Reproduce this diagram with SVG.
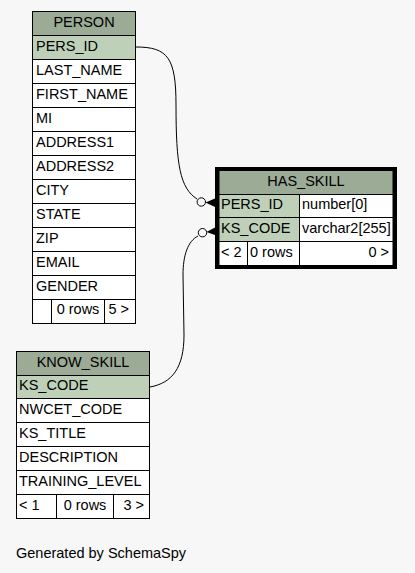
<svg xmlns="http://www.w3.org/2000/svg" width="415" height="573" viewBox="0 0 415 573">
<style>
text{font-family:"Liberation Sans",Arial,Helvetica,sans-serif;font-size:14.5px;fill:#000}
.h{fill:#9bab96;stroke:#000;stroke-width:1}
.pk{fill:#bed1b8;stroke:#000;stroke-width:1}
.c{fill:#fff;stroke:#000;stroke-width:1}
.m{text-anchor:middle}
.e{text-anchor:end}
.ln{fill:none;stroke:#000;stroke-width:1}
</style>
<rect x="0" y="0" width="415" height="573" fill="#f7f7f7"/>
<g id="connectors">
<path class="ln" d="M136,47 C168,47 176,58 176,105 C176,165 180,188 197,199"/>
<circle class="ln" cx="201.3" cy="202" r="4.2" fill="#fff"/>
<polygon points="205.5,202.5 215,198.5 215,207" fill="#000"/>
<path class="ln" d="M150,387 C172,383 184,368 184,335 L183,275 C183,255 188,241 198,236"/>
<circle class="ln" cx="202.5" cy="232.7" r="4.2" fill="#fff"/>
<polygon points="206.5,232 215,227.5 215,235" fill="#000"/>
</g>
<g id="PERSON">
<rect class="h" x="32.5" y="11.5" width="103" height="24"/>
<text class="m" x="84" y="27">PERSON</text>
<rect class="pk" x="32.5" y="35.5" width="103" height="24"/>
<text x="36" y="51">PERS_ID</text>
<rect class="c" x="32.5" y="59.5" width="103" height="24"/>
<text x="36" y="75">LAST_NAME</text>
<rect class="c" x="32.5" y="83.5" width="103" height="24"/>
<text x="36" y="99">FIRST_NAME</text>
<rect class="c" x="32.5" y="107.5" width="103" height="24"/>
<text x="36" y="123">MI</text>
<rect class="c" x="32.5" y="131.5" width="103" height="24"/>
<text x="36" y="147">ADDRESS1</text>
<rect class="c" x="32.5" y="155.5" width="103" height="24"/>
<text x="36" y="171">ADDRESS2</text>
<rect class="c" x="32.5" y="179.5" width="103" height="24"/>
<text x="36" y="195">CITY</text>
<rect class="c" x="32.5" y="203.5" width="103" height="24"/>
<text x="36" y="219">STATE</text>
<rect class="c" x="32.5" y="227.5" width="103" height="24"/>
<text x="36" y="243">ZIP</text>
<rect class="c" x="32.5" y="251.5" width="103" height="24"/>
<text x="36" y="267">EMAIL</text>
<rect class="c" x="32.5" y="275.5" width="103" height="24"/>
<text x="36" y="291">GENDER</text>
<rect class="c" x="32.5" y="299.5" width="19" height="24"/>
<rect class="c" x="51.5" y="299.5" width="53" height="24"/>
<rect class="c" x="104.5" y="299.5" width="31" height="24"/>
<text class="m" x="78" y="314">0 rows</text>
<text class="e" x="129" y="314">5 &gt;</text>
</g>
<g id="HAS_SKILL">
<rect class="h" x="219" y="170.5" width="174" height="24"/>
<text class="m" x="306" y="186">HAS_SKILL</text>
<rect class="pk" x="219" y="194.5" width="80.5" height="23"/>
<rect class="c" x="299.5" y="194.5" width="93.5" height="23"/>
<text x="221" y="209">PERS_ID</text>
<text x="302" y="209">number[0]</text>
<rect class="pk" x="219" y="217.5" width="80.5" height="24"/>
<rect class="c" x="299.5" y="217.5" width="93.5" height="24"/>
<text x="221" y="233">KS_CODE</text>
<text x="302" y="233">varchar2[255]</text>
<rect class="c" x="219" y="241.5" width="28.5" height="24"/>
<rect class="c" x="247.5" y="241.5" width="52" height="24"/>
<rect class="c" x="299.5" y="241.5" width="93.5" height="24"/>
<text x="221" y="257">&lt; 2</text>
<text x="250" y="257">0 rows</text>
<text class="e" x="389" y="257">0 &gt;</text>
<rect x="217" y="169" width="178" height="98" fill="none" stroke="#000" stroke-width="4"/>
</g>
<g id="KNOW_SKILL">
<rect class="h" x="16.5" y="351.5" width="133" height="24"/>
<text class="m" x="83" y="367">KNOW_SKILL</text>
<rect class="pk" x="16.5" y="375.5" width="133" height="23"/>
<text x="19" y="390">KS_CODE</text>
<rect class="c" x="16.5" y="398.5" width="133" height="24"/>
<text x="19" y="414">NWCET_CODE</text>
<rect class="c" x="16.5" y="422.5" width="133" height="24"/>
<text x="19" y="438">KS_TITLE</text>
<rect class="c" x="16.5" y="446.5" width="133" height="24"/>
<text x="19" y="462">DESCRIPTION</text>
<rect class="c" x="16.5" y="470.5" width="133" height="24"/>
<text x="19" y="486">TRAINING_LEVEL</text>
<rect class="c" x="16.5" y="494.5" width="40" height="24"/>
<rect class="c" x="56.5" y="494.5" width="57" height="24"/>
<rect class="c" x="113.5" y="494.5" width="36" height="24"/>
<text x="19" y="510">&lt; 1</text>
<text class="m" x="85" y="510">0 rows</text>
<text class="e" x="144" y="510">3 &gt;</text>
</g>
<text x="16" y="558">Generated by SchemaSpy</text>
</svg>
